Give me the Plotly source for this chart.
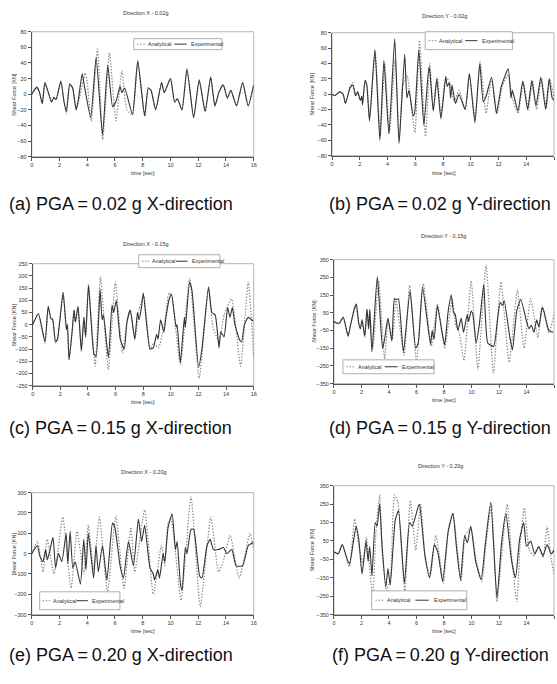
import plotly.graph_objects as go

W, H = 557, 684

# ---------------- data (time [sec], shear force [KN]) ----------------
a_exp_t = [0, 0.36, 0.55, 0.76, 0.95, 1.2, 1.43, 1.6, 1.75, 2.1, 2.33, 2.5, 2.74, 2.95, 3.2, 3.35, 3.64, 3.8, 4.25, 4.64, 5.1, 5.48, 5.83, 6.1, 6.36, 6.5, 6.7, 7.26, 7.64, 8.14, 8.4, 8.6, 8.93, 9.36, 9.55, 10.0, 10.3, 10.5, 10.83, 11.19, 11.67, 12.07, 12.5, 12.9, 13.2, 13.5, 13.8, 14.1, 14.35, 14.76, 15.2, 15.6, 16.0]
a_exp_v = [0, 9, 3, -12, 15, 2, -10, -4, -7, 17, -10, -22, 13, 8, -20, -8, 26, 10, -30, 47, -52, 37, -16, -8, 10, 2, 8, -26, 43, -28, 8, 5, -20, 15, 2, 20, -10, -6, -20, 32, -30, 18, -22, 22, -15, 3, 12, -5, 5, -15, 15, -15, 12]
a_ana_t = [0, 0.36, 0.55, 0.76, 0.95, 1.2, 1.43, 1.6, 1.75, 2.1, 2.33, 2.5, 2.74, 2.95, 3.2, 3.35, 3.86, 4.0, 4.29, 4.74, 5.12, 5.6, 6.07, 6.5, 6.86, 7.26, 7.64, 8.14, 8.4, 8.6, 8.93, 9.36, 9.55, 10.0, 10.3, 10.5, 10.83, 11.19, 11.67, 12.07, 12.5, 12.9, 13.2, 13.5, 13.8, 14.1, 14.35, 14.76, 15.2, 15.6, 16.0]
a_ana_v = [0, 8, 3, -12, 14, 2, -10, -4, -7, 15, -10, -25, 13, 8, -20, -12, 27, 15, -35, 58, -58, 53, -34, 30, -20, -26, 40, -28, 8, 5, -20, 15, 2, 20, -10, -6, -20, 32, -30, 18, -22, 22, -15, 3, 12, -5, 5, -15, 15, -15, 12]

b_exp_t = [0, 0.2, 0.55, 0.8, 0.97, 1.3, 1.5, 1.7, 1.85, 2.04, 2.15, 2.2, 2.38, 2.5, 2.7, 3.09, 3.45, 3.74, 4.1, 4.52, 4.83, 5.24, 5.4, 5.55, 5.85, 5.95, 6.26, 6.62, 6.98, 7.05, 7.3, 7.55, 7.85, 8.2, 8.3, 8.45, 8.55, 8.65, 8.9, 9.15, 9.6, 9.9, 10.3, 10.65, 10.9, 11.1, 11.5, 11.85, 12.2, 12.7, 12.9, 13.0, 13.4, 13.75, 14.1, 14.4, 14.7, 15.05, 15.4, 15.65, 15.87, 16.0]
b_exp_v = [0, -2, 3, 0, -12, 8, 12, -2, 3, -8, -3, -14, 18, 13, -35, 58, -60, 44, -52, 72, -64, 52, -5, 5, -28, -25, 58, -40, 35, 30, -22, 20, -32, 23, 10, 15, -5, 12, -12, 0, -20, 27, -37, 40, -10, -3, 22, -25, 10, 33, -5, 5, -22, 17, -20, 18, -15, 22, -20, 20, -5, -8]
b_ana_t = [0, 0.2, 0.55, 0.8, 0.97, 1.3, 1.5, 1.7, 1.85, 2.04, 2.15, 2.2, 2.38, 2.5, 2.72, 3.12, 3.48, 3.8, 4.14, 4.55, 4.86, 5.08, 5.4, 5.97, 6.31, 6.74, 7.05, 7.3, 7.6, 7.85, 8.2, 8.5, 8.8, 9.15, 9.6, 9.9, 10.3, 10.68, 11.1, 11.5, 11.9, 12.3, 12.7, 13.0, 13.4, 13.8, 14.15, 14.45, 14.75, 15.1, 15.45, 15.7, 16.0]
b_ana_v = [0, -2, 3, 0, -12, 10, 15, -2, 3, -8, -3, -10, 15, 13, -30, 55, -55, 40, -50, 45, -60, 10, 25, -50, 70, -55, 40, -20, 22, -28, 22, 15, -10, 5, -20, 25, -30, 42, -25, 20, -25, 12, 25, -5, -25, 15, -20, 17, -20, 20, -18, 20, -5]

c_exp_t = [0, 0.41, 0.89, 1.12, 1.32, 1.44, 1.65, 1.79, 2.2, 2.44, 2.51, 2.63, 2.85, 2.99, 3.09, 3.28, 3.52, 3.71, 3.83, 4.04, 4.43, 4.59, 4.88, 5.02, 5.12, 5.48, 5.74, 5.86, 6.05, 6.34, 6.63, 6.82, 7.06, 7.39, 7.58, 7.7, 7.87, 8.01, 8.49, 8.73, 8.97, 9.07, 9.26, 9.5, 9.62, 9.86, 10.05, 10.38, 10.45, 10.69, 10.98, 11.05, 11.36, 11.53, 12.01, 12.25, 12.73, 12.97, 13.21, 13.49, 13.61, 13.85, 14.11, 14.28, 14.45, 14.64, 15.0, 15.12, 15.33, 15.6, 15.96]
c_exp_v = [0, 45, -70, 75, 25, 22, -70, -60, 130, -20, 0, -145, -30, 60, 10, 75, -105, 30, -50, 160, -120, -130, 145, 20, 40, -135, 80, 50, 100, -60, -100, 10, 60, -60, 50, 20, 70, 130, -100, -95, -40, -60, 20, -30, 20, 100, 125, -10, 0, -155, 30, -10, 175, 140, -175, -100, 155, 50, 40, -95, -30, -50, 70, 30, 70, 0, -65, -70, 0, 30, 15]
c_ana_t = [0, 0.41, 0.89, 1.12, 1.32, 1.44, 1.65, 1.79, 2.2, 2.44, 2.51, 2.63, 2.85, 2.99, 3.09, 3.28, 3.52, 3.71, 3.83, 4.04, 4.52, 4.9, 5.48, 5.98, 6.5, 6.82, 7.06, 7.39, 7.7, 8.03, 8.5, 8.75, 9.1, 9.5, 9.86, 10.05, 10.69, 11.36, 12.05, 12.73, 13.05, 13.5, 13.85, 14.4, 15.05, 15.6, 16.0]
c_ana_v = [0, 45, -75, 70, 25, 22, -75, -60, 135, -20, 0, -140, -30, 60, 10, 70, -110, 30, -50, 165, -170, 195, -185, 175, -115, 10, 60, -60, 60, 120, -100, -75, -95, -10, 130, 120, -165, 190, -220, 150, -10, -70, 40, 105, -170, 175, -135]

d_exp_t = [0, 0.36, 0.67, 1.03, 1.2, 1.51, 1.63, 1.8, 1.92, 2.04, 2.24, 2.4, 2.52, 2.6, 2.76, 3.15, 3.53, 3.68, 3.92, 4.21, 4.4, 4.57, 4.69, 5.05, 5.53, 5.94, 6.13, 6.44, 7.02, 7.14, 7.28, 7.52, 7.86, 8.05, 8.29, 8.53, 8.7, 8.82, 9.01, 9.25, 9.42, 9.69, 9.78, 9.98, 10.1, 10.34, 10.58, 10.89, 11.18, 11.61, 11.9, 12.09, 12.26, 12.38, 12.79, 12.98, 13.29, 13.58, 14.01, 14.18, 14.35, 14.54, 14.74, 14.9, 15.14, 15.26, 15.63, 15.94]
d_exp_v = [0, -10, 25, -80, -20, 80, 100, -10, -40, 10, -80, 70, -40, 70, -170, 255, -150, -100, 20, -110, 130, 125, 130, -170, 175, -150, -120, 195, -130, -50, -100, 90, -60, -130, 50, 150, 50, 40, -50, 20, -60, 40, 0, 60, 40, -120, -10, 210, -120, -140, 20, 110, 90, 120, -90, -160, 60, 125, 0, -40, -20, -60, 10, -30, 80, 60, -50, -60]
d_ana_t = [0, 0.36, 0.67, 1.03, 1.2, 1.56, 1.8, 1.92, 2.04, 2.24, 2.4, 2.52, 2.6, 2.83, 3.25, 3.68, 3.95, 4.25, 4.5, 5.1, 5.5, 6.0, 6.5, 7.08, 7.52, 8.05, 8.6, 8.85, 9.1, 9.45, 9.98, 10.46, 11.06, 11.59, 12.14, 12.74, 13.34, 13.82, 14.3, 14.83, 15.14, 15.63, 16.0]
d_ana_v = [0, -10, 25, -85, -20, 95, -10, -40, 10, -90, 70, -40, 60, -150, 230, -210, 10, -100, 120, -190, 205, -220, 215, -140, 100, -150, 130, -20, -60, -220, 230, -270, 320, -290, 225, -230, 180, -150, 130, -90, 90, -60, 40]

e_exp_t = [0, 0.41, 0.57, 0.81, 1.0, 1.12, 1.29, 1.53, 1.72, 1.93, 2.17, 2.48, 2.6, 2.77, 2.96, 3.13, 3.51, 3.75, 3.91, 4.08, 4.46, 4.63, 4.8, 5.1, 5.42, 5.82, 5.99, 6.37, 6.61, 6.97, 7.33, 7.69, 7.92, 8.14, 8.52, 8.76, 8.85, 9.09, 9.21, 9.47, 9.59, 9.83, 10.12, 10.36, 10.48, 10.72, 10.84, 11.07, 11.19, 11.48, 11.67, 12.1, 12.27, 12.63, 12.86, 13.1, 13.46, 13.82, 14.06, 14.42, 14.73, 15.2, 15.61, 15.97]
e_exp_v = [0, 40, -10, -40, 20, -30, 10, 80, -70, 0, -40, 100, -50, 110, -70, -40, -150, 70, -80, 100, -120, 40, -90, 40, -130, 150, 130, -60, -120, 60, -60, 170, 60, 140, -70, -100, -130, -80, -120, 0, -40, 130, 195, 20, 60, -150, -180, 30, 0, 120, 120, -110, -120, 40, 70, 20, 20, 30, 0, 20, -60, -60, 40, 55]
e_ana_t = [0, 0.41, 0.81, 1.12, 1.6, 1.9, 2.24, 2.84, 3.27, 3.75, 4.08, 4.46, 4.87, 5.46, 6.06, 6.65, 7.14, 7.43, 8.14, 8.76, 9.35, 9.59, 9.83, 10.05, 10.76, 11.48, 12.15, 12.91, 13.46, 13.8, 14.3, 14.96, 15.73, 16.0]
e_ana_v = [0, 60, -90, 70, -100, 20, 180, -170, 110, -100, 140, -80, 180, -190, 185, -170, 130, -90, 215, -200, 40, -60, 150, 170, -230, 280, -260, 180, -90, -40, 90, -120, 100, 20]

f_exp_t = [0, 0.31, 0.6, 0.96, 1.13, 1.44, 1.61, 1.8, 2.04, 2.33, 2.48, 2.6, 2.76, 3.0, 3.13, 3.32, 3.49, 3.77, 3.92, 4.09, 4.45, 4.69, 5.12, 5.5, 5.7, 6.2, 6.6, 6.95, 7.3, 7.55, 7.9, 8.3, 8.65, 8.9, 9.2, 9.5, 9.7, 9.95, 10.3, 10.7, 11.0, 11.4, 11.85, 12.2, 12.5, 12.9, 13.2, 13.5, 13.8, 14.0, 14.3, 14.6, 14.9, 15.2, 15.5, 15.8, 16.0]
f_exp_v = [-10, -20, 30, -50, -75, 60, 130, 60, -130, 50, -60, 20, -140, 150, 130, 250, 30, -200, -100, -190, 160, 215, -180, 150, 130, 250, -20, -150, 30, -10, -170, 100, 200, 20, -160, 80, 40, 130, -60, -160, 30, 260, -260, 50, 200, -50, -150, 60, 150, 20, 50, -20, 20, -30, 30, -20, 0]
f_ana_t = [0, 0.31, 0.6, 0.96, 1.13, 1.5, 1.8, 2.1, 2.35, 2.5, 2.82, 3.05, 3.32, 3.5, 3.82, 4.1, 4.4, 4.65, 5.15, 5.55, 5.95, 6.3, 6.65, 7.0, 7.4, 7.65, 7.95, 8.35, 8.65, 8.95, 9.25, 9.55, 9.95, 10.35, 10.75, 11.05, 11.45, 11.85, 12.3, 12.6, 12.95, 13.3, 13.55, 13.85, 14.2, 14.55, 14.85, 15.2, 15.5, 15.75, 16.0]
f_ana_v = [-10, -20, 30, -60, -90, 170, 30, -70, 70, -30, -250, 100, 300, 0, -220, -150, 300, 260, -230, 270, 0, 250, -60, -140, 80, -20, -180, 130, 200, 20, -170, 80, 120, -60, -170, 30, 250, -280, 60, 250, -60, -280, 50, 230, 0, -30, 20, -40, 130, -30, -130]

time_ticks = [0, 2, 4, 6, 8, 10, 12, 14, 16]
ticks_a = [-80, -60, -40, -20, 0, 20, 40, 60, 80]
ticks_c = [-250, -200, -150, -100, -50, 0, 50, 100, 150, 200, 250]
ticks_d = [-350, -250, -150, -50, 50, 150, 250, 350]
ticks_e = [-300, -200, -100, 0, 100, 200, 300]

titles = ["Direction X - 0.02g", "Direction Y - 0.02g", "Direction X - 0.15g",
          "Direction Y - 0.15g", "Direction X - 0.20g", "Direction Y - 0.20g"]
captions = ["(a) PGA\u2009=\u20090.02 g X-direction", "(b) PGA\u2009=\u20090.02 g Y-direction",
            "(c) PGA\u2009=\u20090.15 g X-direction", "(d) PGA\u2009=\u20090.15 g Y-direction",
            "(e) PGA\u2009=\u20090.20 g X-direction", "(f) PGA\u2009=\u20090.20 g Y-direction"]
series_names = ["Analytical", "Experimental"]
x_title = "time [sec]"
y_title = "Shear Force [KN]"

# ---------------- layout (pixel geometry) ----------------
def PX(x):
    return x / W

def PY(y):
    return 1 - y / H

panels = [
    dict(exp=(a_exp_t, a_exp_v), ana=(a_ana_t, a_ana_v), ticks=ticks_a, box=(30, 254, 29, 155),
         leg=(133, 222, 36, 47), title_xy=(145, 10), ytitle_x=12, cap_xy=(120, 203)),
    dict(exp=(b_exp_t, b_exp_v), ana=(b_ana_t, b_ana_v), ticks=ticks_a, box=(333, 557, 30, 154),
         leg=(427, 515, 29, 47), title_xy=(447, 13), ytitle_x=313, cap_xy=(442, 203)),
    dict(exp=(c_exp_t, c_exp_v), ana=(c_ana_t, c_ana_v), ticks=ticks_c, box=(31, 254, 263, 386),
         leg=(138, 220, 254, 267), title_xy=(145, 243), ytitle_x=12, cap_xy=(120, 429)),
    dict(exp=(d_exp_t, d_exp_v), ana=(d_ana_t, d_ana_v), ticks=ticks_d, box=(335, 557, 259, 384),
         leg=(344, 436, 360, 374), title_xy=(445, 235), ytitle_x=315, cap_xy=(442, 429)),
    dict(exp=(e_exp_t, e_exp_v), ana=(e_ana_t, e_ana_v), ticks=ticks_e, box=(30, 254, 494, 617),
         leg=(38, 119, 594, 612), title_xy=(143, 473), ytitle_x=12, cap_xy=(120, 658)),
    dict(exp=(f_exp_t, f_exp_v), ana=(f_ana_t, f_ana_v), ticks=ticks_d, box=(335, 557, 487, 617),
         leg=(373, 469, 593, 612), title_xy=(442, 467), ytitle_x=313, cap_xy=(442, 658)),
]

FONT = "Liberation Sans, Arial, sans-serif"
small = dict(family=FONT, size=5.5, color="#333333")
ANA_DASH = "1.4px,1.6px"
ANA_COLOR = "#858585"
EXP_COLOR = "#333333"

fig = go.Figure()
annotations = []
shapes = []
layout_axes = {}

for i, p in enumerate(panels, start=1):
    xa = "x" if i == 1 else f"x{i}"
    ya = "y" if i == 1 else f"y{i}"
    x0, x1, y0, y1 = p["box"]
    fig.add_trace(go.Scatter(x=p["ana"][0], y=p["ana"][1], xaxis=xa, yaxis=ya, mode="lines",
                             name=series_names[0], showlegend=False,
                             line=dict(color=ANA_COLOR, width=1.2, dash=ANA_DASH, shape="spline", smoothing=0.5)))
    fig.add_trace(go.Scatter(x=p["exp"][0], y=p["exp"][1], xaxis=xa, yaxis=ya, mode="lines",
                             name=series_names[1], showlegend=False,
                             line=dict(color=EXP_COLOR, width=1.1, shape="spline", smoothing=0.5)))
    tk = p["ticks"]
    layout_axes["xaxis" if i == 1 else f"xaxis{i}"] = dict(
        domain=[PX(x0), min(PX(x1), 1.0)], anchor=ya, range=[0, 16], tickvals=time_ticks,
        showgrid=False, zeroline=False, showline=True, linecolor="#555555", linewidth=1,
        ticks="outside", ticklen=3, tickcolor="#555555", tickfont=small, fixedrange=True)
    layout_axes["yaxis" if i == 1 else f"yaxis{i}"] = dict(
        domain=[PY(y1), PY(y0)], anchor=xa, range=[tk[0], tk[-1]], tickvals=tk,
        showgrid=False, zeroline=False, showline=True, linecolor="#555555", linewidth=1,
        ticks="outside", ticklen=3, tickcolor="#555555", tickfont=small, fixedrange=True)
    # plot-area frame
    shapes.append(dict(type="rect", xref=f"{xa} domain", yref=f"{ya} domain", x0=0, x1=1, y0=0, y1=1,
                       line=dict(color="#b5b5b5", width=1), layer="below"))
    # titles
    annotations.append(dict(x=PX(p["title_xy"][0]), y=PY(p["title_xy"][1]), xref="paper", yref="paper",
                            text=titles[i - 1], showarrow=False, font=small, xanchor="center", yanchor="middle"))
    annotations.append(dict(x=PX(p["ytitle_x"]), y=PY((y0 + y1) / 2), xref="paper", yref="paper",
                            text=y_title, textangle=-90, showarrow=False, font=small,
                            xanchor="center", yanchor="middle"))
    annotations.append(dict(x=PX((x0 + x1) / 2 if i % 2 == 1 else (x0 + 558) / 2), y=PY(y1 + 17),
                            xref="paper", yref="paper", text=x_title, showarrow=False, font=small,
                            xanchor="center", yanchor="middle"))
    annotations.append(dict(x=PX(p["cap_xy"][0]), y=PY(p["cap_xy"][1]), xref="paper", yref="paper",
                            text=captions[i - 1], showarrow=False,
                            font=dict(family=FONT, size=18, color="#111111"),
                            xanchor="center", yanchor="middle"))
    # legend box
    lx0, lx1, ly0, ly1 = p["leg"]
    lw = lx1 - lx0
    ym = (ly0 + ly1) / 2
    shapes.append(dict(type="rect", xref="paper", yref="paper", x0=PX(lx0), x1=PX(lx1), y0=PY(ly1), y1=PY(ly0),
                       line=dict(color="#9a9a9a", width=0.8), fillcolor="white", layer="above"))
    shapes.append(dict(type="line", xref="paper", yref="paper", x0=PX(lx0 + 0.04 * lw), x1=PX(lx0 + 0.13 * lw),
                       y0=PY(ym), y1=PY(ym), line=dict(color=ANA_COLOR, width=1, dash=ANA_DASH), layer="above"))
    shapes.append(dict(type="line", xref="paper", yref="paper", x0=PX(lx0 + 0.46 * lw), x1=PX(lx0 + 0.6 * lw),
                       y0=PY(ym), y1=PY(ym), line=dict(color=EXP_COLOR, width=1), layer="above"))
    annotations.append(dict(x=PX(lx0 + 0.14 * lw), y=PY(ym), xref="paper", yref="paper", text=series_names[0],
                            showarrow=False, font=small, xanchor="left", yanchor="middle"))
    annotations.append(dict(x=PX(lx0 + 0.63 * lw), y=PY(ym), xref="paper", yref="paper", text=series_names[1],
                            showarrow=False, font=small, xanchor="left", yanchor="middle"))

fig.update_layout(width=W, height=H, margin=dict(l=0, r=0, t=0, b=0), paper_bgcolor="white",
                  plot_bgcolor="white", showlegend=False, annotations=annotations, shapes=shapes,
                  **layout_axes)

fig.write_html("out.html", config={"displayModeBar": False},
               post_script="document.body.style.margin='0';document.body.style.overflow='hidden';")
